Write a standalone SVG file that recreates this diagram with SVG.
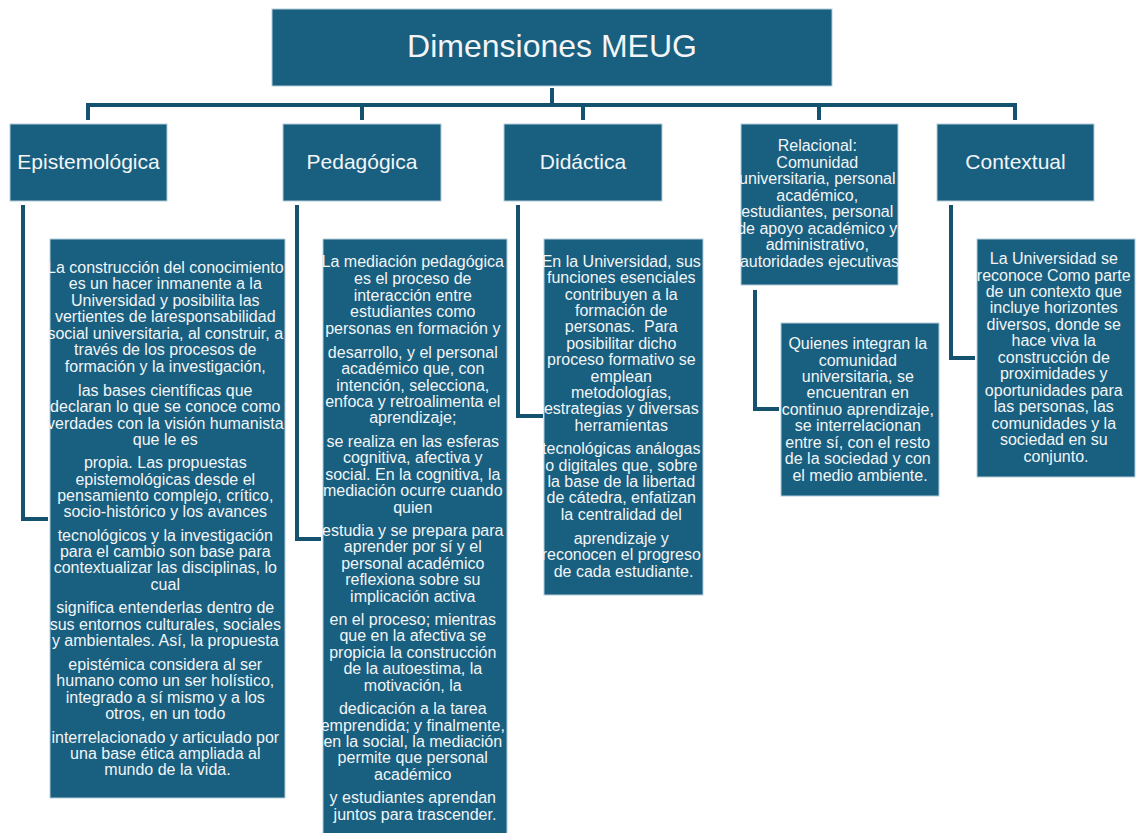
<svg xmlns="http://www.w3.org/2000/svg" width="1138" height="833" viewBox="0 0 1138 833">
<style>
.box{fill:#185f80;stroke:#b4cfdb;stroke-width:1}
.t{font-family:"Liberation Sans",Arial,sans-serif;fill:#f3f5f7;text-anchor:middle}
.b{font-size:16px}
.h{font-size:21px}
.title{font-size:32px}
.c{fill:none;stroke:#14526f;stroke-width:4}
</style>
<rect width="1138" height="833" fill="#ffffff"/>
<g id="connectors">
<path class="c" d="M552 88V105M86 105H1017M88 105V120M362 105V120M583 105V120M819 105V120M1015 105V120"/>
<path class="c" d="M23 205V519H48"/>
<path class="c" d="M297 205V539H321"/>
<path class="c" d="M518 205V416H543"/>
<path class="c" d="M755 290V409H779"/>
<path class="c" d="M951 205V358H975"/>
</g>
<g id="root">
<rect class="box" x="272" y="9" width="560" height="77"/>
<text class="t title" x="552" y="57">Dimensiones MEUG</text>
</g>
<g id="epistemologica">
<rect class="box" x="10" y="124" width="157" height="77"/>
<text class="t h" x="88.5" y="169">Epistemológica</text>
</g>
<g id="pedagogica">
<rect class="box" x="283" y="124" width="158" height="77"/>
<text class="t h" x="362" y="169">Pedagógica</text>
</g>
<g id="didactica">
<rect class="box" x="504" y="124" width="158" height="77"/>
<text class="t h" x="583" y="169">Didáctica</text>
</g>
<g id="relacional">
<rect class="box" x="741" y="124" width="157" height="161"/>
<text class="t b" x="819.5">
<tspan x="819.5" y="151">Relacional:</tspan>
<tspan x="819.5" y="167.5">Comunidad</tspan>
<tspan x="819.5" y="184">universitaria, personal</tspan>
<tspan x="819.5" y="200.5">académico,</tspan>
<tspan x="819.5" y="217">estudiantes, personal</tspan>
<tspan x="819.5" y="233.5">de apoyo académico y</tspan>
<tspan x="819.5" y="250">administrativo,</tspan>
<tspan x="819.5" y="266.5">autoridades ejecutivas</tspan>
</text>
</g>
<g id="contextual">
<rect class="box" x="937" y="124" width="157" height="77"/>
<text class="t h" x="1015.5" y="169">Contextual</text>
</g>
<g id="epistemologica-detalle">
<rect class="box" x="50" y="239" width="235" height="559"/>
<text class="t b">
<tspan x="167.5" y="272.7">La construcción del conocimiento</tspan>
<tspan x="167.5" y="289.2">es un hacer inmanente a la</tspan>
<tspan x="167.5" y="305.7">Universidad y posibilita las</tspan>
<tspan x="167.5" y="322.2">vertientes de laresponsabilidad</tspan>
<tspan x="167.5" y="338.7">social universitaria, al construir, a</tspan>
<tspan x="167.5" y="355.2">través de los procesos de</tspan>
<tspan x="167.5" y="371.7">formación y la investigación,</tspan>
<tspan x="167.5" y="396">las bases científicas que</tspan>
<tspan x="167.5" y="412.3">declaran lo que se conoce como</tspan>
<tspan x="167.5" y="428.5">verdades con la visión humanista</tspan>
<tspan x="167.5" y="444.6">que le es</tspan>
<tspan x="167.5" y="468.3">propia. Las propuestas</tspan>
<tspan x="167.5" y="484.5">epistemológicas desde el</tspan>
<tspan x="167.5" y="500.7">pensamiento complejo, crítico,</tspan>
<tspan x="167.5" y="516.8">socio-histórico y los avances</tspan>
<tspan x="167.5" y="540.7">tecnológicos y la investigación</tspan>
<tspan x="167.5" y="557">para el cambio son base para</tspan>
<tspan x="167.5" y="573.4">contextualizar las disciplinas, lo</tspan>
<tspan x="167.5" y="589.8">cual</tspan>
<tspan x="167.5" y="613.3">significa entenderlas dentro de</tspan>
<tspan x="167.5" y="629.6">sus entornos culturales, sociales</tspan>
<tspan x="167.5" y="646">y ambientales. Así, la propuesta</tspan>
<tspan x="167.5" y="670">epistémica considera al ser</tspan>
<tspan x="167.5" y="686.4">humano como un ser holístico,</tspan>
<tspan x="167.5" y="702.7">integrado a sí mismo y a los</tspan>
<tspan x="167.5" y="719">otros, en un todo</tspan>
<tspan x="167.5" y="742.7">interrelacionado y articulado por</tspan>
<tspan x="167.5" y="759">una base ética ampliada al</tspan>
<tspan x="167.5" y="775.3">mundo de la vida.</tspan>
</text>
</g>
<g id="pedagogica-detalle">
<rect class="box" x="323" y="239" width="184" height="600"/>
<text class="t b">
<tspan x="415" y="267.3">La mediación pedagógica</tspan>
<tspan x="415" y="284">es el proceso de</tspan>
<tspan x="415" y="300.6">interacción entre</tspan>
<tspan x="415" y="317.2">estudiantes como</tspan>
<tspan x="415" y="333.8">personas en formación y</tspan>
<tspan x="415" y="357.7">desarrollo, y el personal</tspan>
<tspan x="415" y="374">académico que, con</tspan>
<tspan x="415" y="390.5">intención, selecciona,</tspan>
<tspan x="415" y="406.9">enfoca y retroalimenta el</tspan>
<tspan x="415" y="423.3">aprendizaje;</tspan>
<tspan x="415" y="446.7">se realiza en las esferas</tspan>
<tspan x="415" y="463.2">cognitiva, afectiva y</tspan>
<tspan x="415" y="479.7">social. En la cognitiva, la</tspan>
<tspan x="415" y="496.2">mediación ocurre cuando</tspan>
<tspan x="415" y="512.7">quien</tspan>
<tspan x="415" y="536">estudia y se prepara para</tspan>
<tspan x="415" y="552.4">aprender por sí y el</tspan>
<tspan x="415" y="568.8">personal académico</tspan>
<tspan x="415" y="585.2">reflexiona sobre su</tspan>
<tspan x="415" y="601.6">implicación activa</tspan>
<tspan x="415" y="625">en el proceso; mientras</tspan>
<tspan x="415" y="641.4">que en la afectiva se</tspan>
<tspan x="415" y="657.8">propicia la construcción</tspan>
<tspan x="415" y="674.2">de la autoestima, la</tspan>
<tspan x="415" y="690.6">motivación, la</tspan>
<tspan x="415" y="714.3">dedicación a la tarea</tspan>
<tspan x="415" y="730.7">emprendida; y finalmente,</tspan>
<tspan x="415" y="747">en la social, la mediación</tspan>
<tspan x="415" y="763.4">permite que personal</tspan>
<tspan x="415" y="779.8">académico</tspan>
<tspan x="415" y="803.3">y estudiantes aprendan</tspan>
<tspan x="415" y="819.5">juntos para trascender.</tspan>
</text>
</g>
<g id="didactica-detalle">
<rect class="box" x="544" y="239" width="159" height="356"/>
<text class="t b">
<tspan x="623.5" y="266.7">En la Universidad, sus</tspan>
<tspan x="623.5" y="283.1">funciones esenciales</tspan>
<tspan x="623.5" y="299.5">contribuyen a la</tspan>
<tspan x="623.5" y="315.9">formación de</tspan>
<tspan x="623.5" y="332.3">personas.&#160; Para</tspan>
<tspan x="623.5" y="348.7">posibilitar dicho</tspan>
<tspan x="623.5" y="365.1">proceso formativo se</tspan>
<tspan x="623.5" y="381.5">emplean</tspan>
<tspan x="623.5" y="397.9">metodologías,</tspan>
<tspan x="623.5" y="414.3">estrategias y diversas</tspan>
<tspan x="623.5" y="430.7">herramientas</tspan>
<tspan x="623.5" y="454.3">tecnológicas análogas</tspan>
<tspan x="623.5" y="470.7">o digitales que, sobre</tspan>
<tspan x="623.5" y="487">la base de la libertad</tspan>
<tspan x="623.5" y="503.4">de cátedra, enfatizan</tspan>
<tspan x="623.5" y="519.8">la centralidad del</tspan>
<tspan x="623.5" y="544">aprendizaje y</tspan>
<tspan x="623.5" y="560.3">reconocen el progreso</tspan>
<tspan x="623.5" y="576.7">de cada estudiante.</tspan>
</text>
</g>
<g id="relacional-detalle">
<rect class="box" x="781" y="323" width="158" height="173"/>
<text class="t b">
<tspan x="860" y="349">Quienes integran la</tspan>
<tspan x="860" y="365.5">comunidad</tspan>
<tspan x="860" y="382">universitaria, se</tspan>
<tspan x="860" y="398.3">encuentran en</tspan>
<tspan x="860" y="414.6">continuo aprendizaje,</tspan>
<tspan x="860" y="431">se interrelacionan</tspan>
<tspan x="860" y="447.5">entre sí, con el resto</tspan>
<tspan x="860" y="464">de la sociedad y con</tspan>
<tspan x="860" y="480.5">el medio ambiente.</tspan>
</text>
</g>
<g id="contextual-detalle">
<rect class="box" x="977" y="239" width="158" height="238"/>
<text class="t b">
<tspan x="1056" y="264">La Universidad se</tspan>
<tspan x="1056" y="280.5">reconoce Como parte</tspan>
<tspan x="1056" y="297">de un contexto que</tspan>
<tspan x="1056" y="313.4">incluye horizontes</tspan>
<tspan x="1056" y="329.8">diversos, donde se</tspan>
<tspan x="1056" y="346.2">hace viva la</tspan>
<tspan x="1056" y="362.7">construcción de</tspan>
<tspan x="1056" y="379.1">proximidades y</tspan>
<tspan x="1056" y="395.6">oportunidades para</tspan>
<tspan x="1056" y="412.1">las personas, las</tspan>
<tspan x="1056" y="428.6">comunidades y la</tspan>
<tspan x="1056" y="445">sociedad en su</tspan>
<tspan x="1056" y="461.5">conjunto.</tspan>
</text>
</g>
</svg>
